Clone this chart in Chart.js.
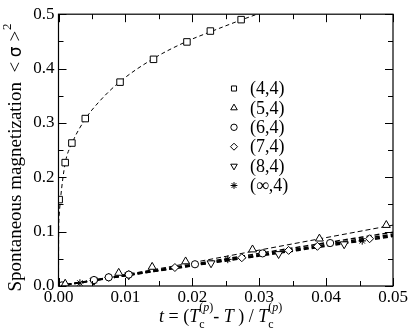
<!DOCTYPE html>
<html>
<head>
<meta charset="utf-8">
<script src="https://cdn.jsdelivr.net/npm/chart.js@4/dist/chart.umd.min.js"></script>
<style>
  html, body { margin:0; padding:0; background:#fff; }
  #wrap { width:409px; height:336px; }
</style>
</head>
<body>
<div id="wrap"><canvas id="myChart" width="409" height="336"></canvas></div>
<script>
// data
let sq_t=[0.0001,0.001,0.002,0.004,0.0092,0.0142,0.0192,0.0227,0.0273];
let sq_m=[0.159,0.227,0.263,0.308,0.375,0.417,0.449,0.469,0.490];

let tri_t=[0.001,0.009,0.014,0.019,0.029,0.039,0.049];
let tri_m=[0.004,0.024,0.035,0.045,0.067,0.087,0.112];

let circ_t=[0.0005,0.0053,0.0075,0.0105,0.0204,0.0305,0.0406];
let circ_m=[0.001,0.011,0.016,0.021,0.040,0.060,0.079];

let dia_t=[0.0008,0.0053,0.0075,0.0105,0.0174,0.0274,0.0344,0.0387,0.0465];
let dia_m=[0.0015,0.010,0.016,0.021,0.034,0.052,0.0655,0.073,0.087];

let dtri_t=[0.0005,0.0053,0.0105,0.0228,0.0329,0.0427];
let dtri_m=[0.001,0.010,0.020,0.042,0.059,0.077];

let ast_t=[0.0005,0.0032,0.0053,0.0253,0.0454];
let ast_m=[0.001,0.0055,0.010,0.049,0.083];

// fitted curves
let fit44_t=[0,0.00002,0.0001,0.0003,0.001,0.002,0.004,0.006,0.009,0.014,0.019,0.023,0.027,0.0297];
let fit44_m=[0,0.09,0.13,0.16,0.226,0.262,0.307,0.338,0.374,0.417,0.449,0.469,0.488,0.5];
let fit_t=[0,0.01,0.02,0.03,0.04,0.05];
let fit54_m=[0,0.021,0.043,0.066,0.089,0.112];
let fit64_m=[0,0.0205,0.040,0.060,0.0795,0.099];
let fit74_m=[0,0.0195,0.0385,0.0575,0.0765,0.0955];
let fit84_m=[0,0.019,0.0375,0.056,0.0745,0.093];
let fitInf_m=[0,0.0188,0.037,0.055,0.073,0.091];

let legendLabels=["(4,4)","(5,4)","(6,4)","(7,4)","(8,4)","(\u221e,4)"];
let xTicks=[0,0.01,0.02,0.03,0.04,0.05];
let yTicks=[0,0.1,0.2,0.3,0.4,0.5];

const SERIF="'Liberation Serif', 'Times New Roman', serif";

function pts(xs, ys){
    return xs.map(function(x,i){ return {x:x, y:ys[i]}; });
}

let markers=[
    {t:sq_t,   m:sq_m,   style:"rect",     r:4.6, rot:0,   lr:3.6},
    {t:tri_t,  m:tri_m,  style:"triangle", r:4.6, rot:0,   lr:3.8},
    {t:circ_t, m:circ_m, style:"circle",   r:3.6, rot:0,   lr:3.2},
    {t:dia_t,  m:dia_m,  style:"rectRot",  r:4.0, rot:0,   lr:3.5},
    {t:dtri_t, m:dtri_m, style:"triangle", r:4.6, rot:180, lr:3.8},
    {t:ast_t,  m:ast_m,  style:"star",     r:3.8, rot:0,   lr:3.4}
];

let datasets=[];
markers.forEach(function(mk,i){
    datasets.push({
        label:legendLabels[i],
        data:pts(mk.t,mk.m),
        showLine:false,
        pointStyle:mk.style,
        pointRadius:mk.r,
        pointRotation:mk.rot,
        pointBorderWidth:1,
        pointBorderColor:"#000",
        pointBackgroundColor:"#fff",
        order:0
    });
});

function fitLine(xs, ys, w, dash){
    return {
        label:"fit",
        data:pts(xs,ys),
        showLine:true,
        pointRadius:0,
        borderColor:"#000",
        borderWidth:w,
        borderDash:dash,
        cubicInterpolationMode:"monotone",
        fill:false,
        order:1
    };
}
datasets.push(fitLine(fit44_t,fit44_m,1,[4,3]));
datasets.push(fitLine(fit_t,fit54_m,1,[5,3]));
datasets.push(fitLine(fit_t,fit64_m,1.5,[5,3]));
datasets.push(fitLine(fit_t,fit74_m,1.5,[5,3]));
datasets.push(fitLine(fit_t,fit84_m,1.5,[5,3]));
datasets.push(fitLine(fit_t,fitInf_m,1.5,[5,3]));

// frame, inward ticks on all sides, legend and axis titles
let decorations={
    id:"decorations",
    afterDraw:function(chart){
        let ctx=chart.ctx;
        let a=chart.chartArea;
        let xs=chart.scales.x, ys=chart.scales.y;
        ctx.save();
        ctx.strokeStyle="#000";
        ctx.lineWidth=1.2;
        ctx.strokeRect(a.left,a.top,a.right-a.left,a.bottom-a.top);

        ctx.lineWidth=1;
        ctx.beginPath();
        for(let k=0;k<=10;k++){
            let v=k*0.005;
            let px=Math.round(xs.getPixelForValue(v))+0.5;
            let len=(k%2==0)?8:5;
            ctx.moveTo(px,a.bottom); ctx.lineTo(px,a.bottom-len);
            ctx.moveTo(px,a.top); ctx.lineTo(px,a.top+len);
            let w=k*0.05;
            let py=Math.round(ys.getPixelForValue(w))+0.5;
            ctx.moveTo(a.left,py); ctx.lineTo(a.left+len,py);
            ctx.moveTo(a.right,py); ctx.lineTo(a.right-len,py);
        }
        ctx.stroke();

        // legend
        let lx=234, ly=88.5, step=19.4;
        markers.forEach(function(mk,i){
            let y=ly+i*step;
            ctx.fillStyle="#fff";
            ctx.strokeStyle="#000";
            ctx.lineWidth=1;
            Chart.helpers.drawPoint(ctx,{pointStyle:mk.style,radius:mk.lr,rotation:mk.rot,borderWidth:1},lx,y);
            ctx.fillStyle="#000";
            ctx.font="18px "+SERIF;
            ctx.textBaseline="middle";
            ctx.textAlign="left";
            ctx.fillText(legendLabels[i],250,y+1);
        });

        // y axis title
        ctx.save();
        ctx.translate(21,158);
        ctx.rotate(-Math.PI/2);
        ctx.textBaseline="alphabetic";
        ctx.fillStyle="#000";
        let part1="Spontaneous magnetization  < ";
        let part2="\u03c3";
        let part3=" >";
        let sig="17px 'DejaVu Sans', sans-serif";
        ctx.font="19px "+SERIF;
        let w1=ctx.measureText(part1).width;
        ctx.font=sig;
        let w2=ctx.measureText(part2).width;
        ctx.font="19px "+SERIF;
        let w3=ctx.measureText(part3).width;
        ctx.font="13px "+SERIF;
        let w4=ctx.measureText("2").width;
        let tx=-(w1+w2+w3+w4)/2;
        ctx.textAlign="left";
        ctx.font="19px "+SERIF; ctx.fillText(part1,tx,0); tx+=w1;
        ctx.font=sig; ctx.fillText(part2,tx,0); tx+=w2;
        ctx.font="19px "+SERIF; ctx.fillText(part3,tx,0); tx+=w3;
        ctx.font="13px "+SERIF; ctx.fillText("2",tx+1,-10);
        ctx.restore();

        // x axis title: t = (Tc(p) - T) / Tc(p)
        ctx.fillStyle="#000";
        ctx.textBaseline="alphabetic";
        ctx.textAlign="left";
        let x=159, base=322;
        let big="18px "+SERIF, bigI="italic 18px "+SERIF;
        let small="12px "+SERIF, smallI="italic 12px "+SERIF;
        function put(txt,font,dy){
            ctx.font=font;
            ctx.fillText(txt,x,base+(dy||0));
            x+=ctx.measureText(txt).width;
        }
        function tcp(){
            put("T",bigI);
            let x0=x;
            put("c",small,6);
            let x1=x;
            x=x0;
            put("(",small,-11); put("p",smallI,-11); put(")",small,-11);
            x=Math.max(x,x1);
        }
        put("t",bigI); put(" = (",big); tcp(); put("- ",big); put("T",bigI);
        put(" ) / ",big); tcp();
        ctx.restore();
    }
};

new Chart("myChart",{
    type:"scatter",
    data:{datasets:datasets},
    plugins:[decorations],
    options:{
        responsive:false,
        animation:false,
        devicePixelRatio:1,
        layout:{padding:{top:6,right:16,left:0,bottom:0}},
        plugins:{legend:{display:false},tooltip:{enabled:false}},
        scales:{
            x:{
                type:"linear",min:0,max:0.05,
                afterBuildTicks:function(s){ s.ticks=xTicks.map(function(v){return {value:v};}); },
                afterFit:function(s){ s.height=50; },
                grid:{display:false,drawTicks:false,tickLength:0},
                border:{display:false},
                ticks:{color:"#000",padding:1,autoSkip:false,maxRotation:0,font:{family:SERIF,size:17},
                    callback:function(v){ return v.toFixed(2); }}
            },
            y:{
                type:"linear",min:0,max:0.5,
                afterBuildTicks:function(s){ s.ticks=yTicks.map(function(v){return {value:v};}); },
                afterFit:function(s){ s.width=58.5; },
                grid:{display:false,drawTicks:false,tickLength:0},
                border:{display:false},
                ticks:{color:"#000",padding:4,autoSkip:false,font:{family:SERIF,size:17},
                    callback:function(v){ return v.toFixed(1); }}
            }
        }
    }
});
</script>
</body>
</html>
